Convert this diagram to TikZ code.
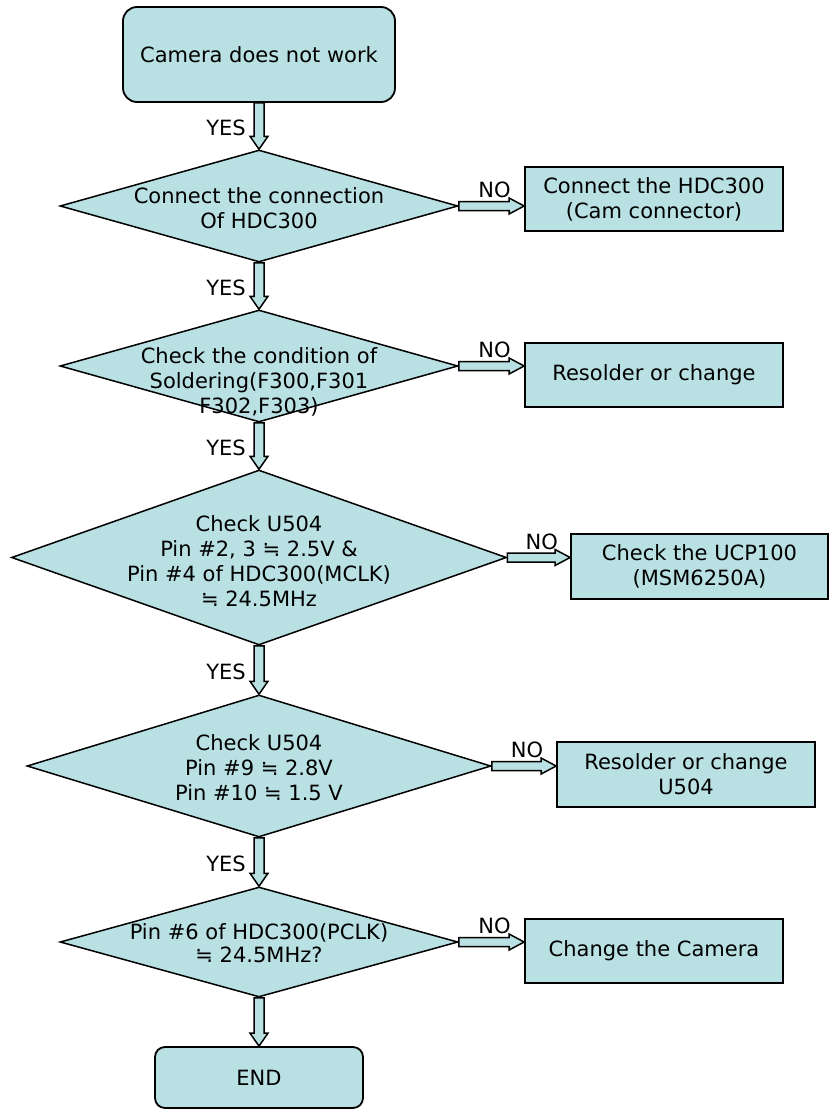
\documentclass[tikz,border=0pt]{standalone}
\usepackage{fontspec}
\setmainfont{DejaVu Sans}
\usetikzlibrary{shapes.geometric,calc}
\definecolor{boxfill}{RGB}{185,224,227}
\tikzset{
  x=1pt,y=-1pt,
  base/.style={draw=black,line width=1.8pt,fill=boxfill,inner sep=0pt,align=center,font=\fontsize{21}{25}\selectfont},
  termbox/.style={base,rectangle,rounded corners=14pt},
  procbox/.style={base,rectangle,minimum width=258,minimum height=64},
  decbox/.style={base,diamond,line width=1.5pt},
  txt/.style={inner sep=0pt,align=center,font=\fontsize{21}{25}\selectfont},
  blk/.style={draw=black,line width=1.5pt,fill=boxfill,line join=miter},
  lbl/.style={inner sep=0pt,font=\fontsize{21}{25}\selectfont},
}
\newcommand\vblock[2]{%
  \draw[blk] ($(#1)+(-5,0)$) -- ($(#2)+(-5,-13)$) -- ($(#2)+(-9,-13)$) -- (#2)
    -- ($(#2)+(9,-13)$) -- ($(#2)+(5,-13)$) -- ($(#1)+(5,0)$) -- cycle;}
\newcommand\hblock[2]{%
  \draw[blk] ($(#1)+(0,-4.5)$) -- ($(#2)+(-15,-4.5)$) -- ($(#2)+(-15,-8)$) -- (#2)
    -- ($(#2)+(-15,8)$) -- ($(#2)+(-15,4.5)$) -- ($(#1)+(0,4.5)$) -- cycle;}
\begin{document}
\begin{tikzpicture}
\useasboundingbox (0,0) rectangle (830,1111);
% main column
\node[termbox,minimum width=272,minimum height=95] (start) at (259,54.5) {Camera does not work};
\node[decbox,minimum width=398,minimum height=112] (d1) at (259,206) {};
\node[txt] (d1t) at (259,208.5) {Connect the connection\\Of HDC300};
\node[decbox,minimum width=398,minimum height=112] (d2) at (259,366) {};
\node[txt] (d2t) at (259,382) {Check the condition of\\Soldering(F300,F301\\F302,F303)};
\node[decbox,minimum width=495,minimum height=175] (d3) at (259,557.5) {};
\node[txt] (d3t) at (259,561) {Check U504\\Pin \#2, 3 ≒ 2.5V \&\\Pin \#4 of HDC300(MCLK)\\≒ 24.5MHz};
\node[decbox,minimum width=464,minimum height=142] (d4) at (259,766) {};
\node[txt] (d4t) at (259,768) {Check U504\\Pin \#9 ≒ 2.8V\\Pin \#10 ≒ 1.5 V};
\node[decbox,minimum width=398,minimum height=110] (d5) at (259,942) {};
\node[txt,font=\fontsize{21}{23}\selectfont] (d5t) at (259,943.5) {Pin \#6 of HDC300(PCLK)\\≒ 24.5MHz?};
\node[termbox,rounded corners=10pt,minimum width=208,minimum height=61] (end) at (259,1077.5) {END};
% side boxes
\node[procbox] (b1) at (654,199) {Connect the HDC300\\(Cam connector)};
\node[procbox] (b2) at (654,375) {Resolder or change};
\node[procbox,minimum width=257,minimum height=65] (b3) at (699.5,566.5) {Check the UCP100\\(MSM6250A)};
\node[procbox,minimum height=65] (b4) at (686,774.5) {Resolder or change\\U504};
\node[procbox] (b5) at (654,951) {Change the Camera};
% vertical connectors
\vblock{start.south}{d1.north}
\vblock{d1.south}{d2.north}
\vblock{d2.south}{d3.north}
\vblock{d3.south}{d4.north}
\vblock{d4.south}{d5.north}
\vblock{d5.south}{end.north}
\node[lbl,anchor=east] (y1) at ($(start.south)!0.5!(d1.north)+(-13,2)$) {YES};
\node[lbl,anchor=east] (y2) at ($(d1.south)!0.5!(d2.north)+(-13,2)$) {YES};
\node[lbl,anchor=east] (y3) at ($(d2.south)!0.5!(d3.north)+(-13,2)$) {YES};
\node[lbl,anchor=east] (y4) at ($(d3.south)!0.5!(d4.north)+(-13,2)$) {YES};
\node[lbl,anchor=east] (y5) at ($(d4.south)!0.5!(d5.north)+(-13,2)$) {YES};
% horizontal connectors
\coordinate (n1) at (b1.west |- d1.east);
\coordinate (n2) at (b2.west |- d2.east);
\coordinate (n3) at (b3.west |- d3.east);
\coordinate (n4) at (b4.west |- d4.east);
\coordinate (n5) at (b5.west |- d5.east);
\hblock{d1.east}{n1}
\hblock{d2.east}{n2}
\hblock{d3.east}{n3}
\hblock{d4.east}{n4}
\hblock{d5.east}{n5}
\node[lbl,anchor=south] (no1) at ($(d1.east)!0.5!(n1)+(3,-8)$) {NO};
\node[lbl,anchor=south] (no2) at ($(d2.east)!0.5!(n2)+(3,-8)$) {NO};
\node[lbl,anchor=south] (no3) at ($(d3.east)!0.5!(n3)+(3,-8)$) {NO};
\node[lbl,anchor=south] (no4) at ($(d4.east)!0.5!(n4)+(3,-8)$) {NO};
\node[lbl,anchor=south] (no5) at ($(d5.east)!0.5!(n5)+(3,-8)$) {NO};
\end{tikzpicture}
\end{document}
